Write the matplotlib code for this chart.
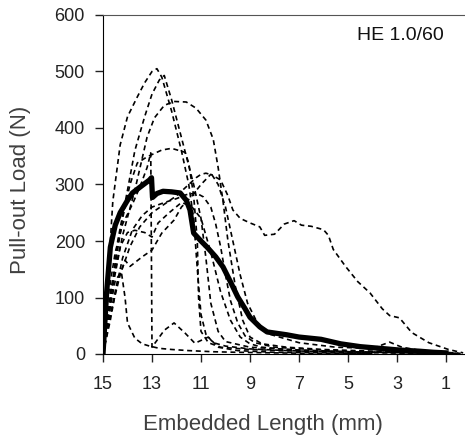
import matplotlib
matplotlib.use("Agg")
import matplotlib.pyplot as plt

plt.rcParams['font.family'] = ['Liberation Sans', 'DejaVu Sans']

# mean curve (thick line)
mean_x = [15, 14.85, 14.7, 14.5, 14.3, 14.0, 13.8, 13.5, 13.1, 13.02, 12.98, 12.8, 12.55, 12.2, 11.85,
          11.6, 11.45, 11.3, 11.0, 10.75, 10.4, 10.1, 9.8, 9.5, 9.2, 9.0, 8.6, 8.3, 7.5, 7.0, 6.1,
          5.3, 4.5, 3.7, 2.9, 2.1, 1.5, 1.0]
mean_y = [0, 110, 189, 228, 250, 272, 285, 295, 308, 312, 277, 284, 288, 287, 285,
          272, 255, 214, 200, 189, 172, 154, 128, 101, 80, 65, 48, 39, 34, 30, 26,
          18, 13, 10, 7, 5, 3, 2]

# individual specimens (dashed)
sA_x = [15, 14.8, 14.6, 14.3, 14.0, 13.6, 13.3, 13.0, 12.8, 12.6, 12.2, 11.8, 11.5, 11.3, 11.15,
        11.0, 10.8, 10.5, 10.0, 9.0, 7.5, 6, 4, 2, 0.5]
sA_y = [0, 130, 270, 370, 420, 455, 480, 500, 505, 490, 430, 360, 300, 240, 150,
        70, 35, 20, 14, 9, 6, 4, 3, 2, 1]

sB_x = [15, 14.7, 14.4, 14.0, 13.7, 13.3, 13.0, 12.7, 12.5, 12.2, 11.9, 11.6, 11.3, 11.0, 10.8,
        10.6, 10.3, 10.0, 9.0, 7, 5, 3, 1]
sB_y = [0, 90, 200, 290, 360, 420, 460, 485, 493, 450, 400, 350, 300, 240, 170,
        90, 40, 22, 12, 7, 4, 2, 1]

sC_x = [15, 14.6, 14.2, 13.7, 13.2, 12.9, 12.5, 12.1, 11.6, 11.2, 10.8, 10.5, 10.3, 10.1, 9.9,
        9.6, 9.3, 9.0, 8.5, 7.5, 6, 4, 2, 0.5]
sC_y = [0, 120, 210, 290, 384, 418, 440, 447, 446, 435, 414, 380, 330, 270, 200,
        120, 60, 30, 18, 12, 8, 5, 3, 1]

sD_x = [15, 14.6, 14.2, 13.9, 13.6, 13.2, 12.6, 12.2, 11.65, 11.5, 11.3, 11.15, 11.1, 11.0, 10.7,
        10.2, 9, 7, 5, 3, 1]
sD_y = [0, 130, 240, 300, 338, 349, 361, 364, 357, 338, 280, 200, 100, 40, 20,
        12, 8, 5, 3, 2, 1]

sE_x = [15, 14.7, 14.4, 14.1, 13.9, 13.4, 13.0, 12.6, 12.1, 11.8, 11.4, 11.0, 10.6, 10.2, 9.9,
        9.7, 9.4, 9.0, 8.6, 8.4, 8.0, 7.6, 7.2, 6.9, 6.5, 6.0, 5.8, 5.6, 5.1, 4.6,
        4.1, 3.6, 3.3, 2.9, 2.4, 1.7, 0.9, 0.3]
sE_y = [0, 60, 130, 166, 155, 172, 184, 214, 237, 260, 278, 300, 318, 308, 280,
        255, 240, 232, 225, 210, 212, 230, 236, 228, 226, 220, 210, 185, 155, 128,
        108, 80, 68, 64, 38, 20, 8, 2]

sF_x = [15, 14.8, 14.5, 14.25, 14.1, 14.0, 13.7, 13.4, 13.1, 12.7, 12.2, 11.5, 10.5, 9.5, 8, 6, 4]
sF_y = [0, 60, 130, 145, 100, 55, 28, 18, 14, 10, 8, 6, 4, 3, 2, 1, 1]

sG_x = [15, 14.8, 14.5, 14.2, 13.8, 13.5, 13.2, 13.05, 13.0, 12.5, 12.1, 11.65, 11.25, 10.7, 10.3,
        9.5, 8, 6, 4]
sG_y = [0, 100, 180, 230, 265, 295, 330, 356, 12, 42, 55, 37, 19, 30, 12,
        6, 3, 2, 1]

sH_x = [15, 14.7, 14.3, 14.0, 13.7, 13.3, 13.0, 12.75, 12.3, 11.8, 11.4, 11.0, 10.6, 10.2, 9.8,
        9.4, 9.0, 8.5, 7.5, 6, 4, 2, 0.5]
sH_y = [0, 110, 190, 215, 219, 215, 207, 232, 250, 268, 262, 240, 180, 110, 60,
        30, 18, 12, 8, 5, 3, 2, 1]

sI_x = [15, 14.6, 14.2, 13.8, 13.4, 13.0, 12.5, 12.0, 11.6, 11.2, 10.9, 10.6, 10.4, 10.2, 10.0,
        9.8, 9.5, 9.2, 8.8, 8, 6.5, 5, 3, 1]
sI_y = [0, 90, 170, 220, 245, 260, 268, 275, 282, 285, 278, 260, 230, 190, 140,
        95, 55, 32, 20, 12, 8, 5, 3, 1]

sJ_x = [15, 14.7, 14.3, 13.9, 13.5, 13.0, 12.5, 12.0, 11.5, 11.2, 11.0, 10.8, 10.55, 10.3, 10.0,
        9.7, 9.4, 9.1, 8.7, 8.2, 7, 5.5, 4, 3.3, 2.8, 2, 1, 0.4]
sJ_y = [0, 70, 140, 190, 225, 250, 265, 280, 300, 312, 318, 320, 317, 300, 260,
        200, 140, 90, 55, 35, 20, 12, 10, 21, 12, 6, 3, 1]

specimens = [(sA_x, sA_y), (sB_x, sB_y), (sC_x, sC_y), (sD_x, sD_y), (sE_x, sE_y),
             (sF_x, sF_y), (sG_x, sG_y), (sH_x, sH_y), (sI_x, sI_y), (sJ_x, sJ_y)]

x_ticks = [15, 13, 11, 9, 7, 5, 3, 1]
y_ticks = [0, 100, 200, 300, 400, 500, 600]

fig = plt.figure(figsize=(4.65, 4.41), dpi=100)
ax = fig.add_axes([103/465, 1-354/441, 1-103/465, 339/441])

for sx, sy in specimens:
    ax.plot(sx, sy, color='black', lw=1.2, linestyle=(0, (3, 2.2)))
ax.plot(mean_x, mean_y, color='black', lw=3.8, solid_joinstyle='round')

ax.set_xlim(15, 15 - 362/24.5)
ax.set_ylim(0, 600)
ax.set_xticks(x_ticks)
ax.set_yticks(y_ticks)
ax.tick_params(axis='both', direction='out', length=6, width=1, labelsize=13, colors='#222222')
ax.tick_params(axis='x', pad=10)
ax.tick_params(axis='y', pad=7)

ax.spines['right'].set_visible(False)
ax.spines['top'].set_color('#555555')
ax.spines['left'].set_color('black')
ax.spines['bottom'].set_color('black')

ax.set_xlabel('Embedded Length (mm)', fontsize=16, color='#404040')
ax.set_ylabel('Pull-out Load (N)', fontsize=16, color='#404040')
ax.xaxis.set_label_coords(160/362, -60/339)
ax.yaxis.set_label_coords(-72/362, 0.484)

ax.text(357, 441 - 36, 'HE 1.0/60', transform=None, fontsize=14, va='center', ha='left', color='#111111')

fig.savefig('out.png', dpi=100)
